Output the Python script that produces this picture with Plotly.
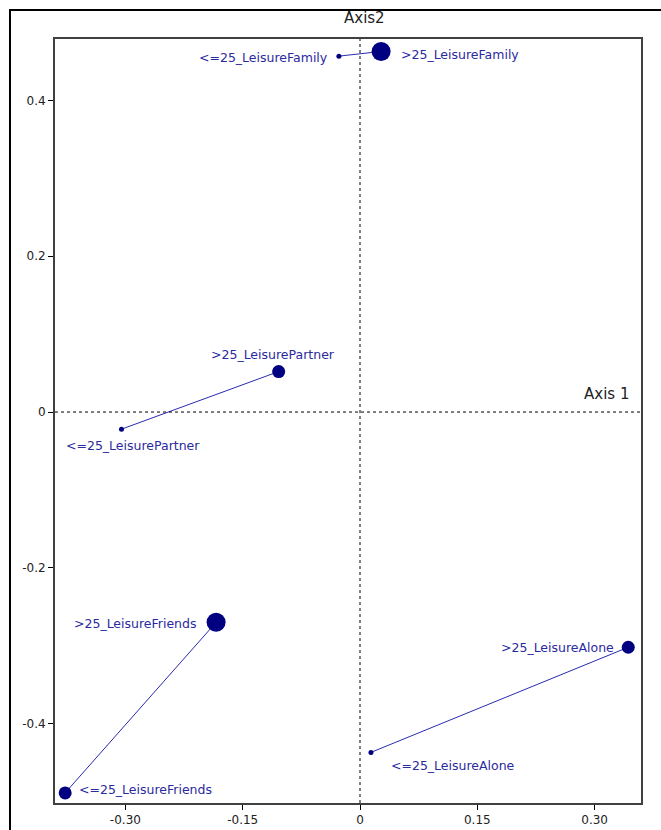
import plotly.graph_objects as go

# Correspondence-analysis coordinates for each leisure category, by age group
categories = ["LeisureFamily", "LeisurePartner", "LeisureFriends", "LeisureAlone"]
young_labels = ["<=25_LeisureFamily", "<=25_LeisurePartner", "<=25_LeisureFriends", "<=25_LeisureAlone"]
old_labels = [">25_LeisureFamily", ">25_LeisurePartner", ">25_LeisureFriends", ">25_LeisureAlone"]
young_x = [-0.027, -0.305, -0.377, 0.014]
young_y = [0.457, -0.022, -0.489, -0.437]
old_x = [0.027, -0.104, -0.184, 0.343]
old_y = [0.463, 0.052, -0.270, -0.302]
# relative weights (marker size classes)
young_weight = [1, 1, 2, 1]
old_weight = [3, 2, 3, 2]

x_ticks = [-0.30, -0.15, 0, 0.15, 0.30]
x_tick_text = ["-0.30", "-0.15", "0", "0.15", "0.30"]
y_ticks = [-0.4, -0.2, 0, 0.2, 0.4]
y_tick_text = ["-0.4", "-0.2", "0", "0.2", "0.4"]

X_RANGE = [-0.390, 0.3593]
Y_RANGE = [-0.502, 0.479]

NAVY = "#000080"
LABEL = "#2a2aa0"
FONT = "DejaVu Sans, Verdana, sans-serif"
size_px = {1: 5, 2: 13, 3: 19}

fig = go.Figure()

# connecting segments between the two age groups of each category
for i in range(len(categories)):
    fig.add_trace(go.Scatter(
        x=[young_x[i], old_x[i]], y=[young_y[i], old_y[i]],
        mode="lines", line=dict(color="#2a2ab0", width=1),
        hoverinfo="skip", showlegend=False))

for xs, ys, lbls, wts in [(young_x, young_y, young_labels, young_weight),
                          (old_x, old_y, old_labels, old_weight)]:
    fig.add_trace(go.Scatter(
        x=xs, y=ys, mode="markers", text=lbls,
        marker=dict(color=NAVY, opacity=1, size=[size_px[w] for w in wts], line=dict(width=0)),
        showlegend=False))

# label placement: (xanchor, xshift, yshift)
young_pos = [("right", -9, -1), ("left", -57, -16), ("left", 12, 3), ("left", 18, -13)]
old_pos = [("left", 18, -3), ("center", -6, 17), ("right", -18, -1), ("right", -12, 0)]

for lbls, xs, ys, pos in [(young_labels, young_x, young_y, young_pos), (old_labels, old_x, old_y, old_pos)]:
    for t, x, y, (xa, dx, dy) in zip(lbls, xs, ys, pos):
        fig.add_annotation(x=x, y=y, text=t, showarrow=False, xanchor=xa, yanchor="middle",
                           xshift=dx, yshift=dy,
                           font=dict(family=FONT, size=12.5, color=LABEL))

# dashed origin lines
fig.add_shape(type="line", xref="x", yref="paper", x0=0, x1=0, y0=0, y1=1,
              line=dict(color="black", width=1, dash="3px,3px"))
fig.add_shape(type="line", xref="paper", yref="y", x0=0, x1=1, y0=0, y1=0,
              line=dict(color="black", width=1, dash="3px,3px"))

# outer frame
fig.add_shape(type="rect", xref="paper", yref="paper", x0=-0.0768, x1=1.2, y0=-0.2, y1=1.038,
              line=dict(color="black", width=2), layer="below")

fig.add_annotation(xref="paper", yref="paper", x=0.529, y=1.0, yshift=21, text="Axis2",
                   showarrow=False, xanchor="center", yanchor="middle",
                   font=dict(family=FONT, size=15, color="#222222"))
fig.add_annotation(xref="paper", yref="y", x=0.983, y=0, yshift=18, text="Axis 1",
                   showarrow=False, xanchor="right", yanchor="middle",
                   font=dict(family=FONT, size=15, color="#222222"))

axis_common = dict(showgrid=False, zeroline=False, showline=True, linecolor="#404040",
                   linewidth=2, mirror=True, ticks="outside", ticklen=5, tickcolor="black",
                   automargin=False,
                   tickfont=dict(family=FONT, size=12, color="#222222"))

fig.update_xaxes(range=X_RANGE, tickvals=x_ticks, ticktext=x_tick_text, **axis_common)
fig.update_yaxes(range=Y_RANGE, tickvals=y_ticks, ticktext=y_tick_text, **axis_common)

# companion axes carrying the inner half of the tick marks, so ticks cross the frame
inner_ticks = dict(showgrid=False, zeroline=False, showline=False, ticks="inside", ticklen=5,
                   tickcolor="black", showticklabels=False, automargin=False)

fig.update_layout(
    xaxis2=dict(overlaying="x", side="bottom", range=X_RANGE, tickvals=x_ticks, anchor="y", **inner_ticks),
    yaxis2=dict(overlaying="y", side="left", range=Y_RANGE, tickvals=y_ticks, anchor="x", **inner_ticks),
    width=661, height=830,
    margin=dict(l=55, r=20, t=39, b=27, autoexpand=False),
    plot_bgcolor="white", paper_bgcolor="white",
    font=dict(family=FONT),
)

fig.write_html("out.html")
